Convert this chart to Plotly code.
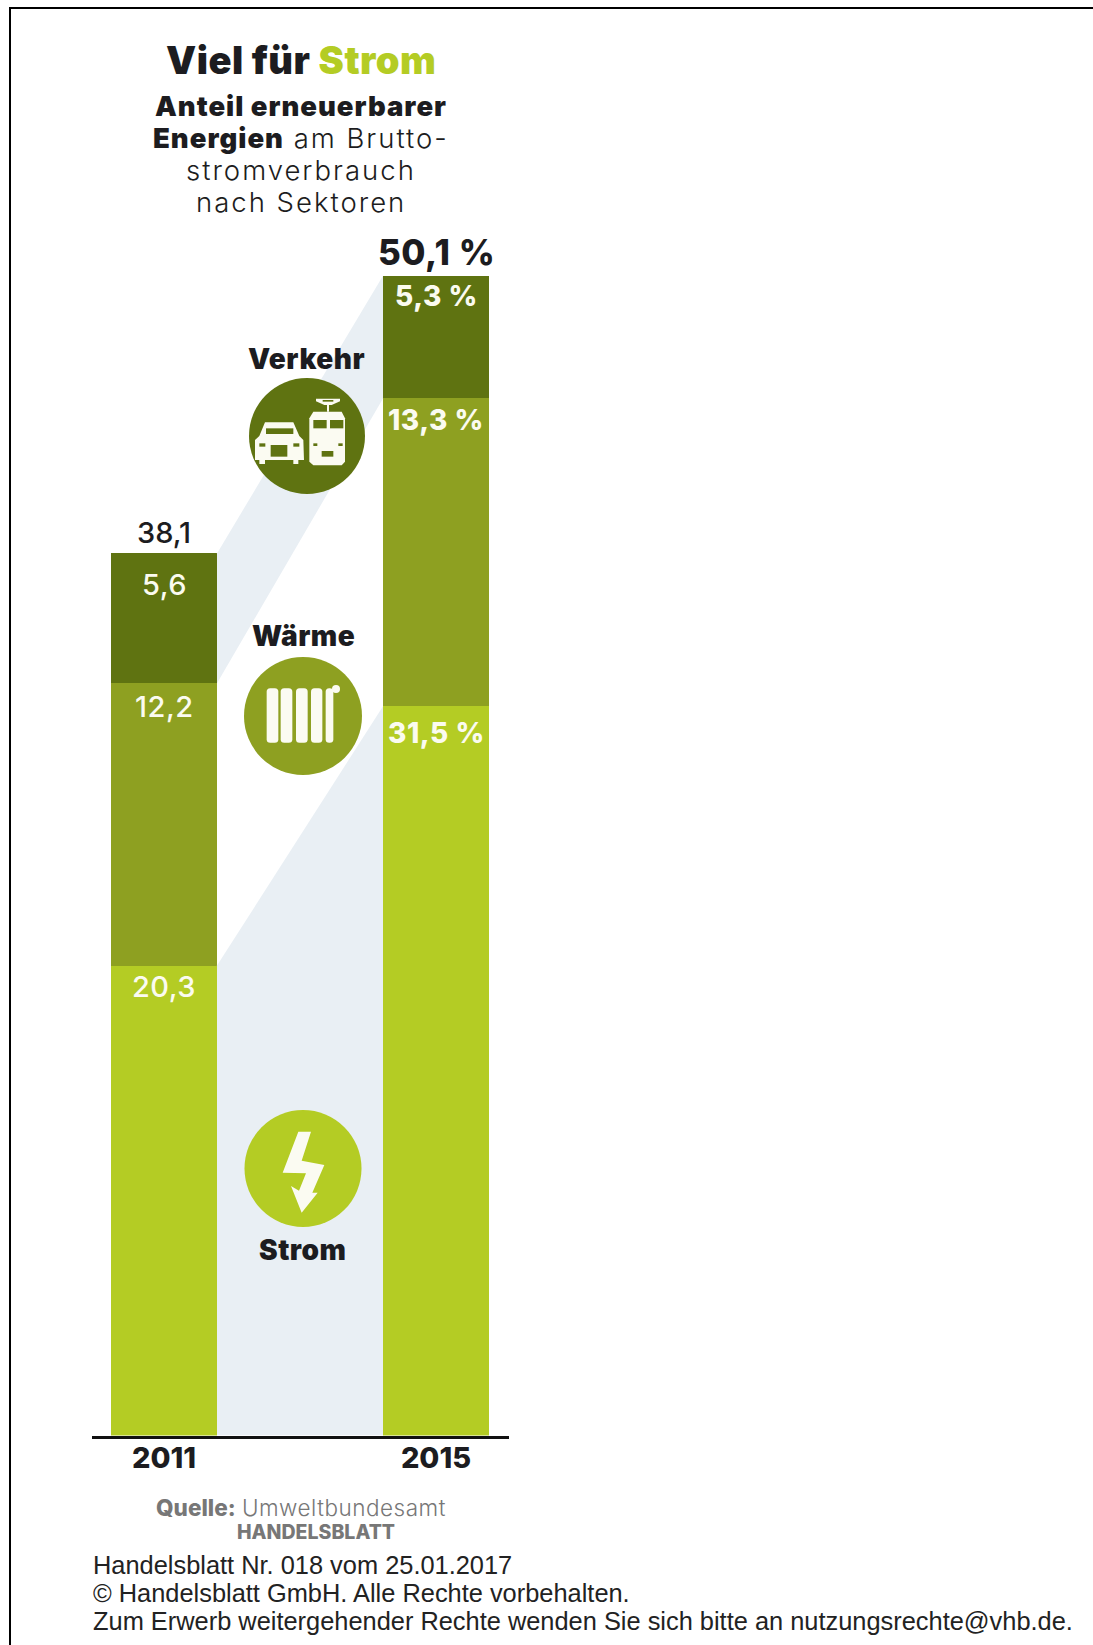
import plotly.graph_objects as go

# Anteil erneuerbarer Energien nach Sektoren (Prozent)
years = ["2011", "2015"]
strom = [20.3, 31.5]
waerme = [12.2, 13.3]
verkehr = [5.6, 5.3]
totals = [38.1, 50.1]
sector_names = ["Strom", "Wärme", "Verkehr"]

WIDTH, HEIGHT = 1093, 1645
DARK, MID, LIGHT = "#5f7311", "#8ea021", "#b4cc24"
BAND = "#e9eff4"
INK = "#1c1c20"
FACE = "Inter"

# Achsen-Geometrie in Seitenpixeln
BASE_Y = 1435.5
UNIT_PX = 23.15
CENTRE_0, STEP = 164.0, 272.0
AXIS_L, AXIS_R = 92.0, 509.0
BAR_W = 106.0 / STEP


def px(x):
    return x / WIDTH


def py(y):
    return 1 - y / HEIGHT


def path(*cmds):
    """SVG-Pfad aus Seitenpixeln; Befehle sind Tupel (Buchstabe, x1, y1, ...)."""
    out = []
    for c in cmds:
        nums = c[1:]
        pairs = [f"{px(nums[i]):.5f},{py(nums[i + 1]):.5f}" for i in range(0, len(nums), 2)]
        out.append(c[0] + " ".join(pairs))
    return " ".join(out) + " Z"


def poly(pts, ox=0, oy=0, k=1 / 3):
    cmds = [("M" if i == 0 else "L", ox + a * k, oy + b * k) for i, (a, b) in enumerate(pts)]
    return path(*cmds)


def solid(p, color):
    return dict(type="path", xref="paper", yref="paper", path=p, fillcolor=color,
                line=dict(width=0), layer="above")


def disc(cx, cy, r, color):
    return dict(type="circle", xref="paper", yref="paper",
                x0=px(cx - r), x1=px(cx + r), y0=py(cy + r), y1=py(cy - r),
                fillcolor=color, line=dict(width=0), layer="above")


def box(x0, y0, x1, y1, color, ox, oy, k=1 / 3):
    return dict(type="rect", xref="paper", yref="paper",
                x0=px(ox + x0 * k), x1=px(ox + x1 * k),
                y0=py(oy + y1 * k), y1=py(oy + y0 * k),
                fillcolor=color, line=dict(width=0), layer="above")


def pill(x0, y0, x1, y1, r, color):
    """Rechteck mit abgerundeten Ecken, Angaben in Seitenpixeln."""
    return solid(path(("M", x0 + r, y0), ("L", x1 - r, y0), ("Q", x1, y0, x1, y0 + r),
                      ("L", x1, y1 - r), ("Q", x1, y1, x1 - r, y1), ("L", x0 + r, y1),
                      ("Q", x0, y1, x0, y1 - r), ("L", x0, y0 + r), ("Q", x0, y0, x0 + r, y0)), color)


def spaced(text, amount):
    return f'<span style="letter-spacing:{amount}px">{text}</span>'


def label(x, y, text, size, weight=400, color=INK, face=FACE, anchor="center"):
    return dict(xref="paper", yref="paper", x=px(x), y=py(y), text=text, showarrow=False,
                xanchor=anchor, yanchor="middle",
                font=dict(family=face, size=size, color=color, weight=weight))


fig = go.Figure()

# Helle Verbindungsflächen zwischen den Säulen
edge_l, edge_r = BAR_W / 2, 1 - BAR_W / 2
strom_top = strom
waerme_top = [s + w for s, w in zip(strom, waerme)]
verkehr_top = [s + w + v for s, w, v in zip(strom, waerme, verkehr)]
fig.add_trace(go.Scatter(x=[edge_l, edge_r, edge_r, edge_l], y=[0, 0, strom_top[1], strom_top[0]],
                         fill="toself", fillcolor=BAND, mode="none", hoverinfo="skip", showlegend=False))
fig.add_trace(go.Scatter(x=[edge_l, edge_r, edge_r, edge_l],
                         y=[waerme_top[0], waerme_top[1], verkehr_top[1], verkehr_top[0]],
                         fill="toself", fillcolor=BAND, mode="none", hoverinfo="skip", showlegend=False))

# Gestapelte Säulen
positions = [0, 1]
for name, values, color in zip(sector_names, [strom, waerme, verkehr], [LIGHT, MID, DARK]):
    fig.add_trace(go.Bar(x=positions, y=values, name=name, width=BAR_W,
                         marker=dict(color=color, line=dict(width=0)), showlegend=False))

annotations = []

# Werte in den Säulen, jeweils an der Oberkante des Segments aufgehängt
drops = {
    "Strom": [21, 27],
    "Wärme": [23, 22],
    "Verkehr": [31, 20],
}
tops = {"Strom": strom_top, "Wärme": waerme_top, "Verkehr": verkehr_top}
series = {"Strom": strom, "Wärme": waerme, "Verkehr": verkehr}
for name in sector_names:
    for i in positions:
        text = f"{series[name][i]:.1f}".replace(".", ",")
        if i == 1:
            text += " %"
        annotations.append(dict(
            xref="x", yref="y", x=i, y=tops[name][i], yshift=-drops[name][i],
            text=spaced(text, 0.5), showarrow=False, xanchor="center", yanchor="middle",
            font=dict(family=FACE, size=28 if i == 1 else 29, color="#fbfbf0",
                      weight=800 if i == 1 else 500)))

# Summen über den Säulen
annotations.append(dict(xref="x", yref="y", x=0, y=totals[0], yshift=21,
                        text=f"{totals[0]:.1f}".replace(".", ","), showarrow=False,
                        font=dict(family=FACE, size=29, color=INK, weight=500)))
annotations.append(dict(xref="x", yref="y", x=1, y=totals[1], yshift=24,
                        text=spaced(f"{totals[1]:.1f} %".replace(".", ","), 0.5), showarrow=False,
                        font=dict(family=FACE, size=35, color=INK, weight=800)))

# Kopfzeilen
annotations += [
    label(301, 60, spaced(f'Viel für <span style="color:{LIGHT}">Strom</span>', 0.5), 38, 900),
    label(301, 106, spaced("Anteil erneuerbarer", 1), 27.5, 900),
    label(301, 138, '<span style="font-weight:900;letter-spacing:1px">Energien</span>'
                    + spaced(" am Brutto-", 2), 27.5, 300),
    label(301, 170, spaced("stromverbrauch", 2), 27.5, 300),
    label(301, 202, spaced("nach Sektoren", 2), 27.5, 300),
    label(306, 359, spaced(sector_names[2], 0.5), 28, 900),
    label(303, 636, spaced(sector_names[1], 0.5), 28, 900),
    label(303, 1250, spaced(sector_names[0], 0.5), 28, 900),
    label(300.5, 1507, '<span style="font-weight:800">Quelle:</span> '
                       + spaced("Umweltbundesamt", 0.5), 22.5, 300, "#777777"),
    label(316, 1532, "HANDELSBLATT", 19.5, 800, "#777777"),
    label(90.5, 1565, "Handelsblatt Nr. 018 vom 25.01.2017", 25.4, 400, "#222222", "Liberation Sans", "left"),
    label(90.5, 1592.5, "© Handelsblatt GmbH. Alle Rechte vorbehalten.", 25.4, 400, "#222222", "Liberation Sans", "left"),
    label(90.5, 1621, "Zum Erwerb weitergehender Rechte wenden Sie sich bitte an nutzungsrechte@vhb.de.",
          25.4, 400, "#222222", "Liberation Sans", "left"),
]

shapes = [
    # Rahmen oben und links
    dict(type="rect", xref="paper", yref="paper", x0=px(9), x1=1, y0=py(9), y1=py(7),
         fillcolor="black", line=dict(width=0)),
    dict(type="rect", xref="paper", yref="paper", x0=px(9), x1=px(11), y0=0, y1=py(7),
         fillcolor="black", line=dict(width=0)),
    disc(307, 436, 58, DARK),
    disc(303, 716, 59, MID),
    disc(303, 1168.5, 58.5, LIGHT),
]

# Symbol Verkehr: Auto und Straßenbahn
OX, OY = 230, 360
W = "#fbfbf2"
shapes += [
    solid(poly([(105, 187), (190, 187), (208, 228), (220, 240), (222, 300), (205, 300), (205, 312),
                (190, 312), (190, 300), (105, 300), (105, 312), (88, 312), (88, 300), (75, 300),
                (75, 240), (88, 228)], OX, OY), W),
    box(108, 205, 190, 222, DARK, OX, OY),
    box(122, 255, 172, 290, DARK, OX, OY),
    box(88, 250, 106, 260, DARK, OX, OY),
    box(190, 250, 208, 260, DARK, OX, OY),
    solid(poly([(250, 155), (335, 155), (345, 175), (345, 305), (335, 316), (250, 316), (238, 305), (238, 175)],
               OX, OY), W),
    box(250, 180, 290, 205, DARK, OX, OY),
    box(300, 180, 340, 205, DARK, OX, OY),
    box(275, 273, 310, 290, DARK, OX, OY),
    box(250, 250, 262, 258, DARK, OX, OY),
    box(325, 250, 338, 258, DARK, OX, OY),
    box(291, 130, 297, 155, W, OX, OY),
    solid(poly([(258, 116), (330, 116), (330, 124), (305, 135), (283, 135), (258, 124)], OX, OY), W),
    box(278, 120, 310, 125, DARK, OX, OY),
]

# Symbol Wärme: Heizkörper
OX, OY = 235, 650
for x0, x1 in [(95, 130), (137, 172), (183, 218), (228, 262), (272, 295)]:
    shapes.append(pill(OX + x0 / 3, OY + 115 / 3, OX + x1 / 3, OY + 278 / 3, 3.5, W))
shapes.append(disc(OX + 303 / 3, OY + 117 / 3, 4, W))

# Symbol Strom: Blitz
shapes.append(solid(poly([(190, 5), (228, 5), (200, 92), (268, 105), (232, 188), (248, 188), (200, 248),
                          (168, 168), (192, 182), (213, 130), (143, 128)], 235, 1130), W))

fig.update_layout(
    width=WIDTH, height=HEIGHT, autosize=False,
    margin=dict(l=0, r=0, t=0, b=0, pad=0),
    paper_bgcolor="white", plot_bgcolor="rgba(0,0,0,0)",
    barmode="stack", bargap=0, showlegend=False,
    annotations=annotations, shapes=shapes,
    xaxis=dict(domain=[px(AXIS_L), px(AXIS_R)],
               range=[(AXIS_L - CENTRE_0) / STEP, (AXIS_R - CENTRE_0) / STEP],
               tickmode="array", tickvals=positions, ticktext=years,
               tickfont=dict(family=FACE, size=29, color=INK, weight=800),
               showgrid=False, zeroline=False, showline=True, linecolor="#111111", linewidth=2.5,
               ticks="", ticklabelstandoff=-5, fixedrange=True),
    yaxis=dict(domain=[py(BASE_Y), 1], range=[0, BASE_Y / UNIT_PX],
               visible=False, showgrid=False, zeroline=False, fixedrange=True),
)

fig.write_html("out.html", config=dict(displayModeBar=False))
